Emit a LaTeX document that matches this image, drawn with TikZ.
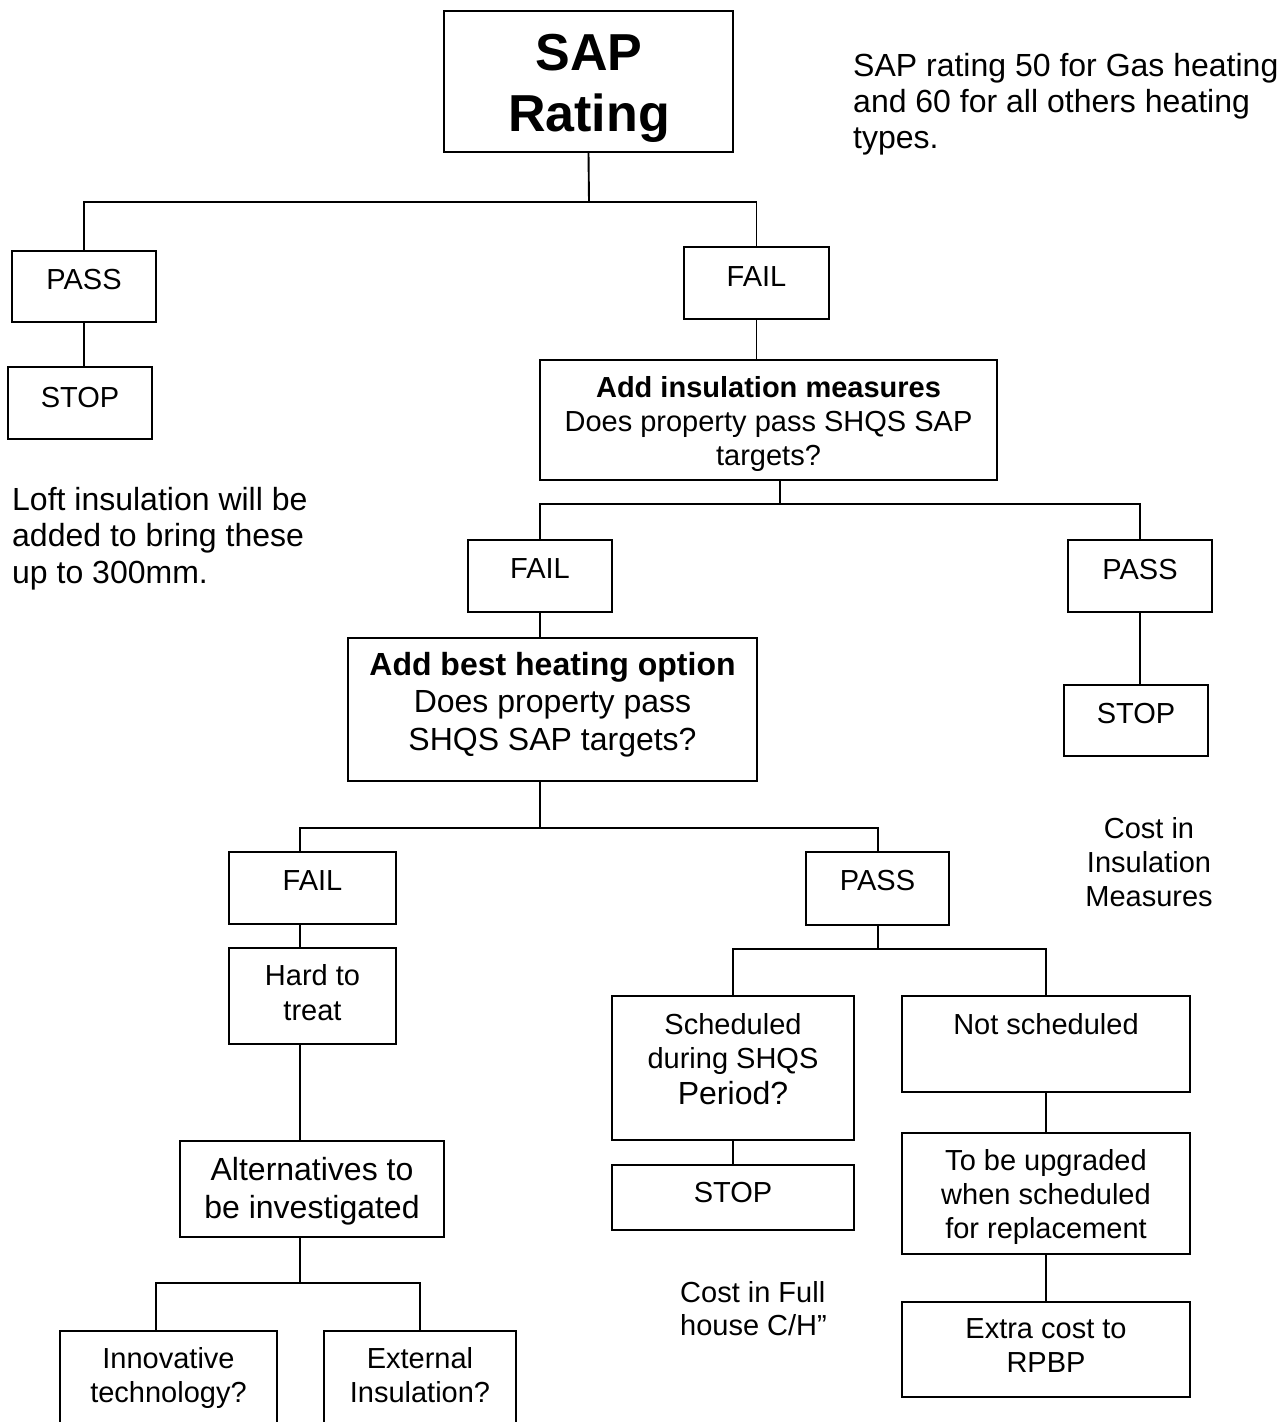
\documentclass[tikz,border=0pt]{standalone}
\usepackage{fontspec}
\setmainfont{Liberation Sans}
\begin{document}
\begin{tikzpicture}[x=1pt,y=-1pt]
\tikzset{
  box/.style={draw, line width=1.9pt, rectangle, inner sep=0pt},
  conn/.style={line width=1.9pt},
  lbl/.style={inner sep=0pt, anchor=base, font=\fontsize{29}{34}\selectfont},
  lblw/.style={inner sep=0pt, anchor=base west, font=\fontsize{29}{34}\selectfont},
  big/.style={font=\fontsize{32}{37.5}\selectfont},
}
\newcommand\mkbox[5]{\node[box, minimum width={#4-#2}, minimum height={#5-#3}] (#1) at ({(#2+#4)/2},{(#3+#5)/2}) {};}
\newcommand\lines[1]{\begin{tabular}[t]{@{}c@{}}#1\end{tabular}}
\newcommand\linesl[1]{\begin{tabular}[t]{@{}l@{}}#1\end{tabular}}
\useasboundingbox (0,0) rectangle (1288,1422);
\fill[white] (0,0) rectangle (1288,1422);

% boxes
\mkbox{sap}{444}{11}{733}{152}
\mkbox{pass1}{12}{251}{156}{322}
\mkbox{stop1}{8}{367}{152}{439}
\mkbox{fail1}{684}{247}{829}{319}
\mkbox{ins}{540}{360}{997}{480}
\mkbox{fail2}{468}{540}{612}{612}
\mkbox{pass2}{1068}{540}{1212}{612}
\mkbox{stop2}{1064}{685}{1208}{756}
\mkbox{heat}{348}{638}{757}{781}
\mkbox{fail3}{229}{852}{396}{924}
\mkbox{pass3}{806}{852}{949}{925}
\mkbox{hard}{229}{948}{396}{1044}
\mkbox{alt}{180}{1141}{444}{1237}
\mkbox{innov}{60}{1331}{277}{1440}
\mkbox{ext}{324}{1331}{516}{1440}
\mkbox{sched}{612}{996}{854}{1140}
\mkbox{notsch}{902}{996}{1190}{1092}
\mkbox{stop3}{612}{1165}{854}{1230}
\mkbox{upg}{902}{1133}{1190}{1254}
\mkbox{extra}{902}{1302}{1190}{1397}

% texts
\node[lbl, font=\fontsize{52}{61}\selectfont\bfseries] (tsap) at (589,70) {\lines{SAP\\Rating}};
\node[lbl] (tpass1) at (84,289) {PASS};
\node[lbl] (tstop1) at (80,407) {STOP};
\node[lbl] (tfail1) at (756.5,286) {FAIL};
\node[lbl] (tins) at (768.5,397) {\lines{\textbf{Add insulation measures}\\Does property pass SHQS SAP\\targets?}};
\node[lbl] (tfail2) at (540,578) {FAIL};
\node[lbl] (tpass2) at (1140,579) {PASS};
\node[lbl] (tstop2) at (1136,723) {STOP};
\node[lbl, big] (theat) at (552.5,675) {\lines{\textbf{Add best heating option}\\Does property pass\\SHQS SAP targets?}};
\node[lbl] (tfail3) at (312.5,890) {FAIL};
\node[lbl] (tpass3) at (877.5,890) {PASS};
\node[lbl, font=\fontsize{29}{35}\selectfont] (thard) at (312.5,985) {\lines{Hard to\\treat}};
\node[lbl, font=\fontsize{32}{38}\selectfont] (talt) at (312,1180) {\lines{Alternatives to\\be investigated}};
\node[lbl] (tinnov) at (168.5,1368) {\lines{Innovative\\technology?}};
\node[lbl] (text) at (420,1368) {\lines{External\\Insulation?}};
\node[lbl] (tsched) at (733,1034) {\lines{Scheduled\\during SHQS\\[2pt]{\fontsize{32}{37}\selectfont Period?}}};
\node[lbl] (tnotsch) at (1046,1034) {Not scheduled};
\node[lbl] (tstop3) at (733,1202) {STOP};
\node[lbl] (tupg) at (1046,1170) {\lines{To be upgraded\\when scheduled\\for replacement}};
\node[lbl] (textra) at (1046,1338) {\lines{Extra cost to\\RPBP}};

% annotations
\node[lblw, font=\fontsize{32}{36}\selectfont] (nsap) at (853,76) {\linesl{SAP rating 50 for Gas heating\\and 60 for all others heating\\types.}};
\node[lblw, font=\fontsize{32}{36.5}\selectfont] (nloft) at (12,510) {\linesl{Loft insulation will be\\added to bring these\\up to 300mm.}};
\node[lbl] (ncostins) at (1149,838) {\lines{Cost in\\Insulation\\Measures}};
\node[lblw, font=\fontsize{29}{33.5}\selectfont] (ncostfull) at (680,1302) {\linesl{Cost in Full\\house C/H”}};

% junction coordinates
\coordinate (j1) at (589,202);
\coordinate (j2) at (780,504);
\coordinate (j3l) at (300,828);
\coordinate (j3) at (540,828);
\coordinate (j3r) at (878,828);
\coordinate (j4l) at (156,1283);
\coordinate (j4) at (300,1283);
\coordinate (j4r) at (420,1283);
\coordinate (j5l) at (733,949);
\coordinate (j5) at (878,949);
\coordinate (j5r) at (1046,949);

% connectors
\draw[conn] (sap.south) -- (j1);
\draw[conn] (pass1.north) |- (j1) -| (fail1.north);
\draw[conn] (pass1.south) -- (pass1.south |- stop1.north);
\draw[conn] (fail1.south) -- (fail1.south |- ins.north);
\draw[conn] (j2 |- ins.south) -- (j2);
\draw[conn] (fail2.north) |- (j2) -| (pass2.north);
\draw[conn] (pass2.south) -- (pass2.south |- stop2.north);
\draw[conn] (fail2.south) -- (fail2.south |- heat.north);
\draw[conn] (j3 |- heat.south) -- (j3);
\draw[conn] (j3l |- fail3.north) -- (j3l) -- (j3r) -- (j3r |- pass3.north);
\draw[conn] (j3l |- fail3.south) -- (j3l |- hard.north);
\draw[conn] (j3l |- hard.south) -- (j3l |- alt.north);
\draw[conn] (j4 |- alt.south) -- (j4);
\draw[conn] (j4l |- innov.north) -- (j4l) -- (j4r) -- (j4r |- ext.north);
\draw[conn] (j5 |- pass3.south) -- (j5);
\draw[conn] (j5l |- sched.north) -- (j5l) -- (j5r) -- (j5r |- notsch.north);
\draw[conn] (j5l |- sched.south) -- (j5l |- stop3.north);
\draw[conn] (j5r |- notsch.south) -- (j5r |- upg.north);
\draw[conn] (j5r |- upg.south) -- (j5r |- extra.north);
\end{tikzpicture}
\end{document}
